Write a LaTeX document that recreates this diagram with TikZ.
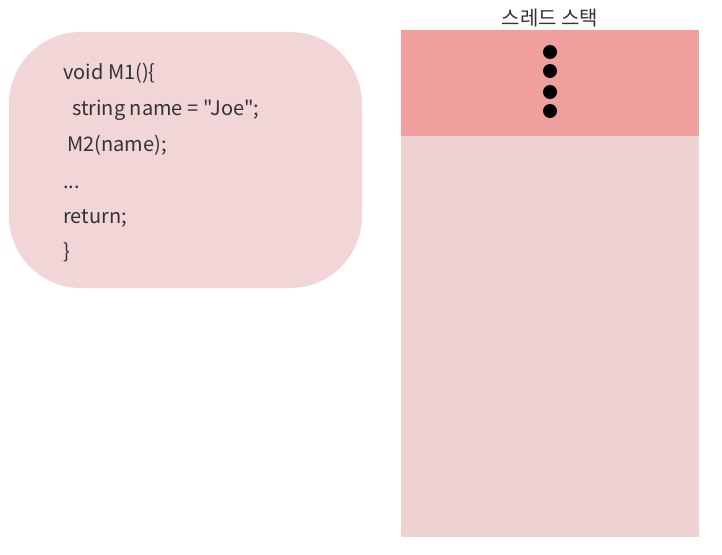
\documentclass[tikz,border=0pt]{standalone}
\usepackage{fontspec}
\newfontfamily\codefont{Noto Sans CJK KR}
\definecolor{boxfill}{RGB}{241,213,215}
\definecolor{stacktop}{RGB}{240,159,159}
\definecolor{stackbody}{RGB}{239,211,211}
\definecolor{txt}{RGB}{51,51,51}
\begin{document}
\begin{tikzpicture}[x=1pt,y=-1pt,
  codeline/.style={anchor=base west,text=txt,font=\codefont\fontsize{20}{22}\selectfont,inner sep=0pt},
  dotmark/.style={circle,fill=black,inner sep=0pt,minimum size=14pt}]
\useasboundingbox (0,0) rectangle (722,554);
% code box
\node[fill=boxfill,rounded corners=72pt,minimum width=353pt,minimum height=256pt,inner sep=0pt] (code) at (185.5,160) {};
\node[codeline] (l1) at (63,79) {void M1()\{};
\node[codeline] (l2) at (72,115) {string name = "Joe";};
\node[codeline] (l3) at (67,151) {M2(name);};
\node[codeline] (l4) at (63,188) {...};
\node[codeline] (l5) at (63,223) {return;};
\node[codeline] (l6) at (63,258) {\}};
% stack
\node[fill=stackbody,minimum width=298pt,minimum height=507pt,inner sep=0pt] (stack) at (550,283.5) {};
\node[fill=stacktop,minimum width=298pt,minimum height=106pt,inner sep=0pt] (top) at (550,83) {};
\node[text=txt,font=\codefont\fontsize{20}{22}\selectfont,inner sep=0pt,anchor=base] (title) at (550,25) {스레드 스택};
\node[dotmark] (d1) at (550,52) {};
\node[dotmark] (d2) at (550,71) {};
\node[dotmark] (d3) at (550,92) {};
\node[dotmark] (d4) at (550,111) {};
\end{tikzpicture}
\end{document}
